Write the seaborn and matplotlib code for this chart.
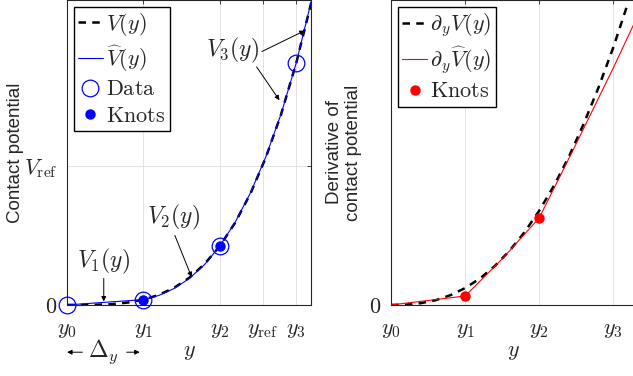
import matplotlib
matplotlib.use("Agg")
import matplotlib.pyplot as plt
import seaborn as sns

# values (V_ref = 1, knot spacing = 1)
y_grid = [0.0, 0.2, 0.4, 0.6, 0.8, 1.0, 1.2, 1.4, 1.6, 1.8, 2.0, 2.2, 2.4, 2.6, 2.8, 3.0, 3.2]
v_true = [0.0, 0.0002, 0.0016, 0.0064, 0.0175, 0.038, 0.072, 0.123, 0.195, 0.294, 0.424,
          0.591, 0.800, 1.057, 1.367, 1.739, 2.18]
v_fit = [0.0, 0.0076, 0.0152, 0.0228, 0.0304, 0.038, 0.068, 0.118, 0.190, 0.290, 0.424,
         0.594, 0.805, 1.062, 1.370, 1.739, 2.19]
y_data = [0.0, 1.0, 2.0, 3.0]
v_data = [0.0, 0.038, 0.424, 1.739]
y_knots = [1.0, 2.0]
v_knots = [0.038, 0.424]

dv_true = [0.0, 0.0024, 0.0136, 0.037, 0.076, 0.132, 0.207, 0.304, 0.424, 0.567, 0.736,
           0.932, 1.157, 1.413, 1.697, 2.01, 2.36]
y_dfit = [0.0, 1.0, 1.5, 2.0, 2.5, 3.0, 3.3]
dv_fit = [0.0, 0.07, 0.36, 0.68, 1.26, 1.85, 2.22]
dv_knots = [0.07, 0.68]

x_ticks_left = [0, 1, 2, 2.56, 3]
x_labels_left = ["$y_0$", "$y_1$", "$y_2$", r"$y_{\mathrm{ref}}$", "$y_3$"]
x_ticks_right = [0, 1, 2, 3]
x_labels_right = ["$y_0$", "$y_1$", "$y_2$", "$y_3$"]

sns.set_style("white")
plt.rcParams["font.family"] = ["Liberation Sans", "DejaVu Sans"]
plt.rcParams["mathtext.fontset"] = "cm"

fig = plt.figure(figsize=(6.33, 3.76), dpi=100)
ax1 = fig.add_axes([0.106, 0.189, 0.385, 0.811])
ax2 = fig.add_axes([0.618, 0.189, 0.386, 0.811])

fs = 16
fs_note = 17
grid_kw = dict(color="#e3e3e3", lw=0.7)
leg_kw = dict(loc="upper left", fontsize=fs, frameon=True, fancybox=False, edgecolor="k",
              framealpha=1, handlelength=1.1, handletextpad=0.15, labelspacing=0.25,
              borderpad=0.2, borderaxespad=0.3)

# left panel
sns.lineplot(x=y_grid, y=v_true, ax=ax1, color="k", lw=1.8, linestyle=(0, (3, 2.5)),
             label="$V(y)$", zorder=3)
sns.lineplot(x=y_grid, y=v_fit, ax=ax1, color="blue", lw=0.8, label=r"$\widehat{V}(y)$",
             zorder=4)
ax1.plot(y_data, v_data, "o", ms=12, mfc="none", mec="blue", mew=0.9, label=r"$\mathrm{Data}$",
         zorder=5, clip_on=False)
ax1.plot(y_knots, v_knots, "o", ms=6.5, color="blue", label=r"$\mathrm{Knots}$", zorder=6)

ax1.set_xlim(0, 3.19)
ax1.set_ylim(0, 2.19)
ax1.set_xticks(x_ticks_left, x_labels_left)
ax1.set_yticks([0, 1], ["$0$", r"$V_{\mathrm{ref}}$"])
ax1.grid(True, **grid_kw)
ax1.set_ylabel("Contact potential", fontsize=13.5, labelpad=0)
ax1.set_xlabel("$y$", fontsize=fs, labelpad=1)

arrow_kw = dict(arrowstyle="-|>", color="k", lw=0.7, mutation_scale=7, shrinkA=0, shrinkB=0)
ax1.text(0.48, 0.31, "$V_1(y)$", fontsize=fs_note, ha="center", va="center")
ax1.annotate("", xy=(0.48, 0.025), xytext=(0.48, 0.19), arrowprops=arrow_kw)
ax1.text(1.39, 0.63, "$V_2(y)$", fontsize=fs_note, ha="center", va="center")
ax1.annotate("", xy=(1.63, 0.2), xytext=(1.41, 0.50), arrowprops=arrow_kw)
ax1.text(2.17, 1.83, "$V_3(y)$", fontsize=fs_note, ha="center", va="center")
ax1.annotate("", xy=(3.11, 1.97), xytext=(2.55, 1.82), arrowprops=arrow_kw)
ax1.annotate("", xy=(2.78, 1.47), xytext=(2.48, 1.71), arrowprops=arrow_kw)

trans = ax1.get_xaxis_transform()
ax1.text(0.47, -0.155, r"$\Delta_y$", fontsize=fs_note, ha="center", va="center", transform=trans)
ax1.annotate("", xy=(0.0, -0.155), xytext=(0.2, -0.155), xycoords=trans, textcoords=trans,
             arrowprops=arrow_kw, annotation_clip=False)
ax1.annotate("", xy=(0.95, -0.155), xytext=(0.78, -0.155), xycoords=trans, textcoords=trans,
             arrowprops=arrow_kw, annotation_clip=False)

ax1.legend(**leg_kw)

# right panel
sns.lineplot(x=y_grid, y=dv_true, ax=ax2, color="k", lw=1.8, linestyle=(0, (3, 2.5)),
             label=r"$\partial_y V(y)$", zorder=3)
sns.lineplot(x=y_dfit, y=dv_fit, ax=ax2, color="red", lw=0.8,
             label=r"$\partial_y \widehat{V}(y)$", zorder=4)
ax2.plot(y_knots, dv_knots, "o", ms=6.5, color="red", label=r"$\mathrm{Knots}$", zorder=5)

ax2.set_xlim(0, 3.3)
ax2.set_ylim(0, 2.38)
ax2.set_xticks(x_ticks_right, x_labels_right)
ax2.set_yticks([0], ["$0$"])
ax2.grid(True, **grid_kw)
ax2.set_ylabel("Derivative of\ncontact potential", fontsize=13.5, labelpad=5)
ax2.set_xlabel("$y$", fontsize=fs, labelpad=1)
ax2.legend(**leg_kw)

for ax in (ax1, ax2):
    ax.tick_params(direction="in", length=3, width=0.6, labelsize=fs, pad=7,
                   top=True, right=True, colors="#262626")
    ax.tick_params(axis="x", pad=10)
    for sp in ax.spines.values():
        sp.set_color("#262626")
        sp.set_linewidth(0.8)
    ax.set_axisbelow(True)

fig.savefig("out.png", dpi=100)
